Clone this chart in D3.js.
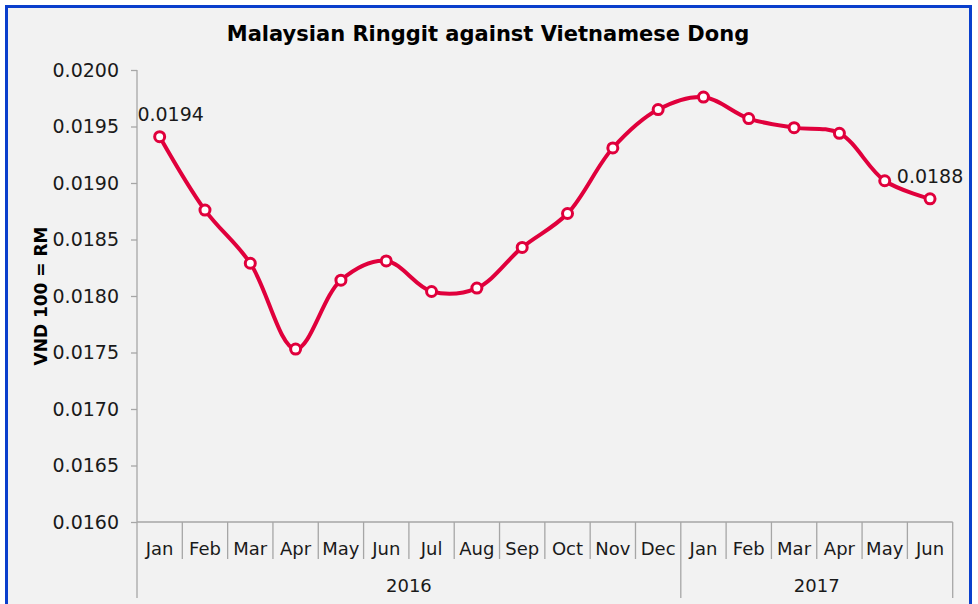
<!DOCTYPE html>
<html>
<head>
<meta charset="utf-8">
<script src="https://cdnjs.cloudflare.com/ajax/libs/d3/7.8.5/d3.min.js"></script>
<style>
  body { margin: 0; background: #ffffff; }
  svg { display: block; font-family: "DejaVu Sans", sans-serif; }
</style>
</head>
<body>
<div id="chart"></div>
<script>
const months = ["Jan","Feb","Mar","Apr","May","Jun","Jul","Aug","Sep","Oct","Nov","Dec",
                "Jan","Feb","Mar","Apr","May","Jun"];
const years = [{label: "2016", count: 12}, {label: "2017", count: 6}];
const rates = [0.01941, 0.01876, 0.01829, 0.01753, 0.01814, 0.01831, 0.01804, 0.01807, 0.01843,
               0.01873, 0.01931, 0.01965, 0.01976, 0.01957, 0.01949, 0.01944, 0.01902, 0.01886];
const yTicks = [0.016, 0.0165, 0.017, 0.0175, 0.018, 0.0185, 0.019, 0.0195, 0.02];
const pointLabels = [{i: 0, text: "0.0194", dx: 11}, {i: 17, text: "0.0188", dx: 0}];

const W = 978, H = 604;
const margin = {top: 70, right: 25, bottom: 82, left: 137};
const FONT = "'DejaVu Sans', sans-serif";

const svg = d3.select("#chart").append("svg")
    .attr("width", W)
    .attr("height", H);

// background + frame
svg.append("rect")
    .attr("x", 6.5).attr("y", 6.5)
    .attr("width", 964).attr("height", 610)
    .attr("fill", "#f2f2f2")
    .attr("stroke", "#0a3fcc")
    .attr("stroke-width", 3);

const x = d3.scaleBand()
    .domain(d3.range(months.length))
    .range([margin.left, W - margin.right - 0.3])
    .padding(0);

const y = d3.scaleLinear()
    .domain([0.016, 0.02])
    .range([H - margin.bottom, margin.top]);

// title
svg.append("text")
    .attr("x", 488).attr("y", 41)
    .attr("text-anchor", "middle")
    .style("font-family", FONT)
    .style("font-size", "21px")
    .style("font-weight", "bold")
    .attr("fill", "#000")
    .text("Malaysian Ringgit against Vietnamese Dong");

// y axis
const yAxis = svg.append("g")
    .attr("transform", `translate(${margin.left},0)`)
    .call(d3.axisLeft(y).tickValues(yTicks).tickSize(6).tickPadding(12)
        .tickFormat(d3.format(".4f")));
yAxis.select(".domain").remove();
yAxis.selectAll("line").attr("stroke", "#a6a6a6").attr("stroke-width", 1.3);
yAxis.selectAll("text")
    .style("font-family", FONT)
    .style("font-size", "19px")
    .attr("fill", "#1a1a1a");

svg.append("line")
    .attr("x1", margin.left).attr("x2", margin.left)
    .attr("y1", margin.top).attr("y2", 598)
    .attr("stroke", "#a6a6a6").attr("stroke-width", 1.3);

// y axis title
svg.append("text")
    .attr("transform", `translate(47,${(margin.top + H - margin.bottom) / 2}) rotate(-90)`)
    .attr("text-anchor", "middle")
    .style("font-family", FONT)
    .style("font-size", "17px")
    .style("font-weight", "bold")
    .text("VND 100 = RM");

// x axis baseline
const baseY = y(0.016);
svg.append("line")
    .attr("x1", margin.left).attr("x2", x.range()[1])
    .attr("y1", baseY).attr("y2", baseY)
    .attr("stroke", "#a6a6a6").attr("stroke-width", 1.3);

// month separators and labels
const xg = svg.append("g");
xg.selectAll(".sep")
    .data(d3.range(1, months.length + 1))
    .enter().append("line")
    .attr("x1", i => i < months.length ? x(i) : x.range()[1])
    .attr("x2", i => i < months.length ? x(i) : x.range()[1])
    .attr("y1", baseY)
    .attr("y2", i => (i === 12 || i === months.length) ? 598 : 559)
    .attr("stroke", "#a6a6a6").attr("stroke-width", 1.3);

xg.selectAll(".month")
    .data(months)
    .enter().append("text")
    .attr("x", (d, i) => x(i) + x.bandwidth() / 2)
    .attr("y", 555)
    .attr("text-anchor", "middle")
    .style("font-family", FONT)
    .style("font-size", "18px")
    .attr("fill", "#1a1a1a")
    .text(d => d);

let start = 0;
years.forEach(yr => {
    const x0 = x(start);
    const x1 = start + yr.count < months.length ? x(start + yr.count) : x.range()[1];
    svg.append("text")
        .attr("x", (x0 + x1) / 2)
        .attr("y", 592)
        .attr("text-anchor", "middle")
        .style("font-family", FONT)
        .style("font-size", "18px")
        .attr("fill", "#1a1a1a")
        .text(yr.label);
    start += yr.count;
});

// line
const line = d3.line()
    .x((d, i) => x(i) + x.bandwidth() / 2)
    .y(d => y(d))
    .curve(d3.curveCatmullRom.alpha(0.5));

svg.append("path")
    .datum(rates)
    .attr("d", line)
    .attr("fill", "none")
    .attr("stroke", "#e0003c")
    .attr("stroke-width", 4);

svg.selectAll(".pt")
    .data(rates)
    .enter().append("circle")
    .attr("cx", (d, i) => x(i) + x.bandwidth() / 2)
    .attr("cy", d => y(d))
    .attr("r", 5)
    .attr("fill", "#fff")
    .attr("stroke", "#e0003c")
    .attr("stroke-width", 3);

svg.selectAll(".plabel")
    .data(pointLabels)
    .enter().append("text")
    .attr("x", d => x(d.i) + x.bandwidth() / 2 + d.dx)
    .attr("y", d => y(rates[d.i]) - 16)
    .attr("text-anchor", "middle")
    .style("font-family", FONT)
    .style("font-size", "19px")
    .attr("fill", "#1a1a1a")
    .text(d => d.text);
</script>
</body>
</html>
